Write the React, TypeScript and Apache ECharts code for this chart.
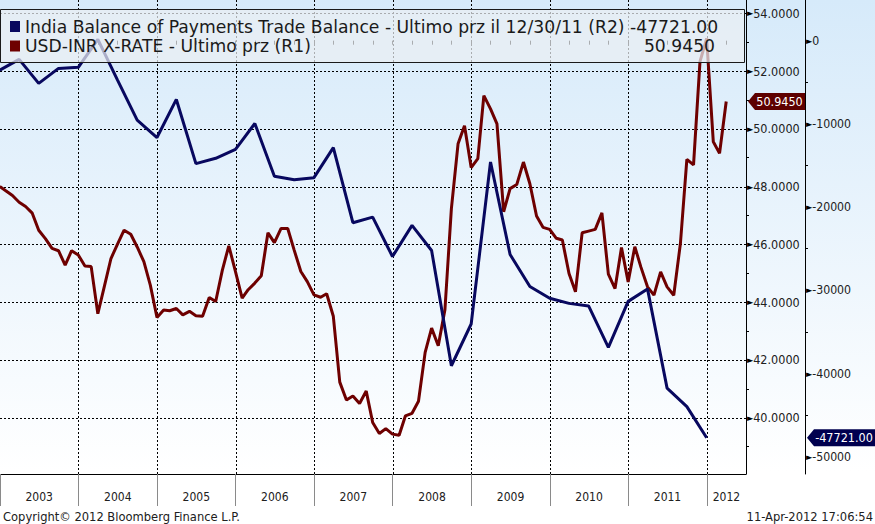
import { useEffect, useRef } from "react";
import * as echarts from "echarts";

const FONT = "'DejaVu Sans Condensed', 'DejaVu Sans', sans-serif";
const LEGEND_FONT = "'DejaVu Sans', sans-serif";

const legendTitles = [
  "India Balance of Payments Trade Balance - Ultimo prz il 12/30/11 (R2) -47721.00",
  "USD-INR X-RATE - Ultimo prz (R1)",
];
const legendLastValue = "50.9450";

// Quarterly, quarter-end from Dec 2002 to Dec 2011 (R2)
const tradeBalance = [
  -3530, -2240, -5130, -3330, -3200, 170, -4700, -9550, -11640, -7060,
  -14770, -14130, -13050, -9950, -16300, -16700, -16460, -12850, -21880, -21200,
  -25940, -22200, -25220, -39070, -34050, -14580, -25700, -29550, -30960, -31570,
  -31880, -36870, -31330, -29830, -41760, -43980, -47721,
];

// Monthly, month-end from Dec 2002 to Mar 2012 (R1)
const usdInr = [
  48.0, 47.84, 47.69, 47.46, 47.31, 47.08, 46.49, 46.2, 45.86, 45.78,
  45.28, 45.78, 45.63, 45.25, 45.23, 43.6, 44.54, 45.51, 46.0, 46.49,
  46.35, 45.91, 45.4, 44.59, 43.47, 43.73, 43.7, 43.78, 43.56, 43.68,
  43.53, 43.51, 44.16, 44.02, 45.11, 45.95, 45.06, 44.14, 44.43, 44.66,
  44.91, 46.4, 46.06, 46.55, 46.55, 45.8, 45.06, 44.71, 44.25, 44.17,
  44.29, 43.51, 41.23, 40.61, 40.75, 40.49, 40.92, 39.83, 39.45, 39.62,
  39.43, 39.39, 40.06, 40.15, 40.57, 42.26, 43.1, 42.49, 43.74, 47.24,
  49.48, 50.11, 48.66, 48.97, 51.15, 50.69, 50.17, 47.13, 47.93, 48.07,
  48.85, 48.1, 46.98, 46.59, 46.52, 46.21, 46.15, 44.99, 44.36, 46.4,
  46.46, 46.52, 47.09, 44.97, 44.47, 45.89, 44.7, 45.92, 45.22, 44.53,
  44.24, 45.05, 44.53, 44.24, 46.03, 48.94, 48.75, 52.33, 53.13, 49.55,
  49.15, 50.945,
];

const yearLabels = ["2003", "2004", "2005", "2006", "2007", "2008", "2009", "2010", "2011", "2012"];
const r1Ticks = [40, 42, 44, 46, 48, 50, 52, 54];
const r1Minor = [39, 41, 43, 45, 47, 49, 51, 53];
const r2Ticks = [0, -10000, -20000, -30000, -40000, -50000];
const r2Minor = [-5000, -15000, -25000, -35000, -45000];
const footerLeft = "Copyright\u00A9 2012 Bloomberg Finance L.P.";
const footerRight = "11-Apr-2012 17:06:54";

const R1_MIN = 38.049;
const R1_MAX = 54.461;
const R2_MIN = -52079;
const R2_MAX = 4892;

const RED = "#6e0000";
const NAVY = "#08085f";

const monthEnd = (y: number, m: number) => Date.UTC(y, m + 1, 0);
const inrDates = usdInr.map((_, i) => monthEnd(2002, 11 + i));
const tbDates = tradeBalance.map((_, i) => monthEnd(2002, 11 + 3 * i));

const xMin = Date.UTC(2003, 0, 1);
const xMax = Date.UTC(2012, 6, 1);
const yearStarts = yearLabels.map((y) => Date.UTC(+y, 0, 1));
const yearMids = yearLabels.map((y, i) =>
  i < yearLabels.length - 1 ? Date.UTC(+y, 6, 2) : (Date.UTC(+y, 0, 1) + xMax) / 2
);
const quarterStarts: number[] = [];
yearLabels.forEach((y) => {
  for (let q = 0; q < 4; q++) {
    const t = Date.UTC(+y, q * 3, 1);
    if (t <= xMax) quarterStarts.push(t);
  }
});
quarterStarts.push(xMax);

export default function App() {
  const ref = useRef<HTMLDivElement>(null);
  useEffect(() => {
    document.body.style.margin = "0";
    const chart = echarts.init(ref.current!, null, { renderer: "svg" });
    const lastInr = usdInr[usdInr.length - 1];
    const lastTb = tradeBalance[tradeBalance.length - 1];

    const yearFmt = (v: number) => {
      let best = 0;
      yearMids.forEach((m, i) => {
        if (Math.abs(m - v) < Math.abs(yearMids[best] - v)) best = i;
      });
      return yearLabels[best];
    };

    // grid line data: [x, y, orientation] 0 = horizontal, 1 = vertical
    const gridData = [
      ...r1Ticks.map((v) => [xMin, v, 0]),
      ...yearStarts.slice(1).map((v) => [v, R1_MIN, 1]),
    ];

    const renderGridLine = (params: any, api: any) => {
      const cs = params.coordSys;
      const p = api.coord([api.value(0), api.value(1)]);
      const vertical = api.value(2) === 1;
      let d = "";
      if (vertical) {
        const x = Math.round(p[0]) + 0.5;
        for (let y = Math.round(cs.y); y < cs.y + cs.height; y += 4) d += `M${x},${y}v2`;
      } else {
        const y = Math.round(p[1]) + 0.5;
        for (let x = Math.round(cs.x); x < cs.x + cs.width; x += 4) d += `M${x},${y}h2`;
      }
      return {
        type: "path",
        shape: { pathData: d },
        style: { stroke: "#000", lineWidth: 1, fill: null },
        silent: true,
      };
    };

    const option: any = {
      animation: false,
      backgroundColor: new echarts.graphic.LinearGradient(0, 0, 0, 1, [
        { offset: 0, color: "#d6eafa" },
        { offset: 0.9, color: "#ffffff" },
        { offset: 1, color: "#ffffff" },
      ]),
      textStyle: { fontFamily: FONT },
      grid: { left: 0, top: 0, width: 746, height: 474, containLabel: false, outerBoundsMode: "none" },
      xAxis: [
        {
          type: "value",
          min: xMin,
          max: xMax,
          position: "bottom",
          axisLine: { show: true, onZero: false, lineStyle: { color: "#000", width: 1 } },
          axisTick: { show: true, customValues: yearStarts, length: 32, lineStyle: { color: "#8a8a8a", width: 1 } },
          axisLabel: {
            show: true,
            customValues: yearMids,
            formatter: yearFmt,
            margin: 17,
            color: "#202020",
            fontSize: 12,
            fontFamily: FONT,
            hideOverlap: false,
          },
          splitLine: { show: false },
        },
        {
          type: "value",
          min: xMin,
          max: xMax,
          position: "bottom",
          axisLine: { show: false },
          axisTick: { show: true, customValues: quarterStarts, length: 4, lineStyle: { color: "#000", width: 1 } },
          axisLabel: { show: false },
          splitLine: { show: false },
        },
      ],
      yAxis: [
        {
          type: "value",
          position: "right",
          offset: 0,
          min: R1_MIN,
          max: R1_MAX,
          axisLine: { show: true, onZero: false, lineStyle: { color: "#000", width: 1 } },
          axisTick: { show: false, customValues: r1Ticks },
          axisLabel: {
            show: true,
            customValues: r1Ticks,
            margin: 1,
            formatter: (v: number) => `{t|\u25BA}{v|${v.toFixed(4)}}`,
            rich: {
              t: { fontSize: 9, color: "#000", fontFamily: FONT },
              v: { fontSize: 12.5, color: "#202020", fontFamily: FONT },
            },
          },
          splitLine: { show: false },
        },
        {
          type: "value",
          position: "right",
          offset: 0,
          min: R1_MIN,
          max: R1_MAX,
          axisLine: { show: false },
          axisTick: { show: true, customValues: r1Minor, length: 3, lineStyle: { color: "#000" } },
          axisLabel: { show: false },
          splitLine: { show: false },
        },
        {
          type: "value",
          position: "right",
          offset: 59,
          min: R2_MIN,
          max: R2_MAX,
          axisLine: { show: true, onZero: false, lineStyle: { color: "#000", width: 1 } },
          axisTick: { show: false, customValues: r2Ticks },
          axisLabel: {
            show: true,
            customValues: r2Ticks,
            margin: 1,
            formatter: (v: number) => `{t|\u25BA}{v|${v}}`,
            rich: {
              t: { fontSize: 9, color: "#000", fontFamily: FONT },
              v: { fontSize: 12.2, color: "#202020", fontFamily: FONT },
            },
          },
          splitLine: { show: false },
        },
        {
          type: "value",
          position: "right",
          offset: 59,
          min: R2_MIN,
          max: R2_MAX,
          axisLine: { show: false },
          axisTick: { show: true, customValues: r2Minor, length: 3, lineStyle: { color: "#000" } },
          axisLabel: { show: false },
          splitLine: { show: false },
        },
      ],
      series: [
        {
          type: "custom",
          name: "gridlines",
          xAxisIndex: 0,
          yAxisIndex: 0,
          data: gridData,
          renderItem: renderGridLine,
          silent: true,
          clip: false,
          z: 1,
        },
        {
          type: "line",
          name: legendTitles[1],
          xAxisIndex: 0,
          yAxisIndex: 0,
          data: inrDates.map((d, i) => [d, usdInr[i]]),
          showSymbol: false,
          symbol: "none",
          lineStyle: { color: RED, width: 3 },
          itemStyle: { color: RED },
          clip: true,
          z: 2,
          markPoint: {
            silent: true,
            symbol: "path://M0,8.5L7,0L57,0L57,17L7,17Z",
            symbolSize: [57, 17],
            symbolOffset: [30.5, 0],
            symbolKeepAspect: false,
            itemStyle: { color: "#5e0000" },
            label: {
              show: true,
              position: "inside",
              offset: [3, 0],
              color: "#fff",
              fontSize: 12.5,
              fontFamily: FONT,
              formatter: () => lastInr.toFixed(4),
            },
            data: [{ coord: [xMax, lastInr] }],
          },
        },
        {
          type: "line",
          name: legendTitles[0],
          xAxisIndex: 0,
          yAxisIndex: 2,
          data: tbDates.map((d, i) => [d, tradeBalance[i]]),
          showSymbol: false,
          symbol: "none",
          lineStyle: { color: NAVY, width: 3 },
          itemStyle: { color: NAVY },
          clip: true,
          z: 3,
          markPoint: {
            silent: true,
            symbol: "path://M0,8.5L7,0L68,0L68,17L7,17Z",
            symbolSize: [68, 17],
            symbolOffset: [95, 0],
            symbolKeepAspect: false,
            itemStyle: { color: "#00004f" },
            label: {
              show: true,
              position: "inside",
              offset: [3, 0],
              color: "#fff",
              fontSize: 12.5,
              fontFamily: FONT,
              formatter: () => lastTb.toFixed(2),
            },
            data: [{ coord: [xMax, lastTb] }],
          },
        },
      ],
      graphic: [
        {
          type: "rect",
          z: 100,
          shape: { x: 0.5, y: 9.5, width: 744, height: 53 },
          style: { fill: "rgba(234,238,243,0.72)", stroke: "#1a1a1a", lineWidth: 1 },
        },
        { type: "rect", z: 101, shape: { x: 10, y: 21, width: 10, height: 11 }, style: { fill: NAVY } },
        { type: "rect", z: 101, shape: { x: 10, y: 40.5, width: 10, height: 11 }, style: { fill: RED } },
        {
          type: "text",
          z: 101,
          x: 25,
          y: 26.5,
          style: { text: legendTitles[0], fontSize: 17.2, fontFamily: LEGEND_FONT, fill: "#1a1a1a", verticalAlign: "middle" },
        },
        {
          type: "text",
          z: 101,
          x: 25,
          y: 46.3,
          style: { text: legendTitles[1], fontSize: 17.2, fontFamily: LEGEND_FONT, fill: "#1a1a1a", verticalAlign: "middle" },
        },
        {
          type: "text",
          z: 101,
          x: 715,
          y: 46.3,
          style: { text: legendLastValue, fontSize: 17.2, fontFamily: LEGEND_FONT, fill: "#1a1a1a", align: "right", verticalAlign: "middle" },
        },
        {
          type: "text",
          z: 101,
          x: 3,
          y: 516.7,
          style: { text: footerLeft, fontSize: 12.8, fontFamily: FONT, fill: "#202020", verticalAlign: "middle" },
        },
        {
          type: "text",
          z: 101,
          x: 873,
          y: 516.7,
          style: { text: footerRight, fontSize: 12.8, fontFamily: FONT, fill: "#202020", align: "right", verticalAlign: "middle" },
        },
      ],
    };
    chart.setOption(option);
    return () => chart.dispose();
  }, []);
  return (
    <div
      ref={ref}
      style={{ position: "absolute", left: 0, top: 0, width: 875, height: 524 }}
    />
  );
}
